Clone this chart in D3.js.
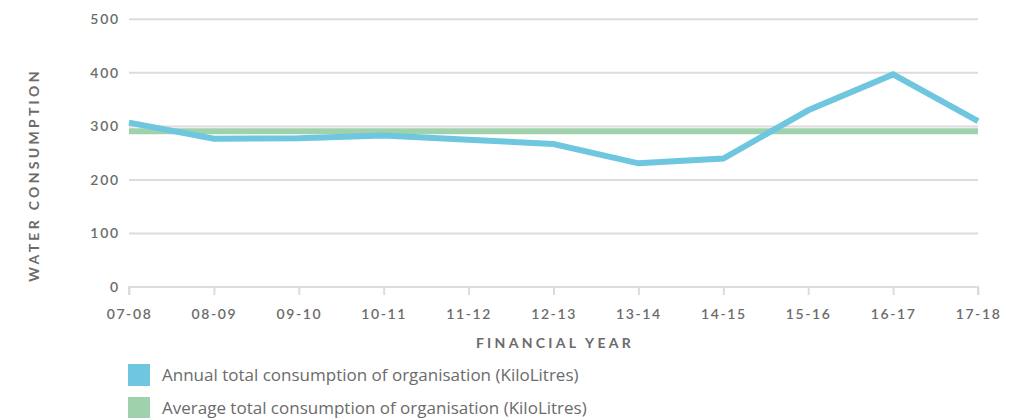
<!DOCTYPE html>
<html><head><meta charset="utf-8">
<script src="https://cdn.jsdelivr.net/npm/d3@7"></script>
<style>body{margin:0;background:#fff}</style>
</head><body>
<svg id="c" width="1025" height="418"></svg>
<script>
const categories = ["07-08","08-09","09-10","10-11","11-12","12-13","13-14","14-15","15-16","16-17","17-18"];
const annual = [307,277,278,283,275,267,231,240,330,397,310];
const average = [291,291,291,291,291,291,291,291,291,291,291];
const yTicks = [0,100,200,300,400,500];
const seriesNames = ["Annual total consumption of organisation (KiloLitres)","Average total consumption of organisation (KiloLitres)"];
const colors = ["#6ec6df","#9fd1ad"];

const svg = d3.select("#c");
const x = d3.scalePoint().domain(categories).range([129,978]);
const y = d3.scaleLinear().domain([0,500]).range([287,19.3]);
const tickFont = "Lato, 'DejaVu Sans', sans-serif";

// gridlines
svg.append("g").selectAll("line").data(yTicks.filter(d=>d>0)).join("line")
  .attr("x1",129).attr("x2",978).attr("y1",d=>y(d)).attr("y2",d=>y(d))
  .attr("stroke","#dcdcdc").attr("stroke-width",2);

// y labels
svg.append("g").selectAll("text").data(yTicks).join("text")
  .attr("x",120).attr("y",d=>y(d)+5).attr("text-anchor","end")
  .attr("font-family",tickFont).attr("font-size",14).attr("font-weight",600)
  .attr("letter-spacing",1.8).attr("fill","#6b6b6b").text(d=>d);

// x axis
const xAxis = svg.append("g").attr("transform",`translate(0,${y(0)})`)
  .call(d3.axisBottom(x).tickSize(8).tickSizeOuter(0).tickPadding(14));
xAxis.select(".domain").attr("stroke","#dcdcdc").attr("stroke-width",2).attr("d",`M129,8V0H978V8`);
xAxis.selectAll(".tick line").attr("stroke","#dcdcdc").attr("stroke-width",2);
xAxis.selectAll(".tick text").attr("font-family",tickFont).attr("font-size",14).attr("font-weight",600)
  .attr("letter-spacing",1.6).attr("fill","#6b6b6b");

// lines
const line = d3.line().x((d,i)=>x(categories[i])).y(d=>y(d));
svg.append("path").datum(average).attr("d",line).attr("fill","none")
  .attr("stroke",colors[1]).attr("stroke-width",6);
svg.append("path").datum(annual).attr("d",line).attr("fill","none")
  .attr("stroke",colors[0]).attr("stroke-width",6).attr("stroke-linejoin","miter");

// axis titles
svg.append("text").attr("transform","translate(39,175) rotate(-90)").attr("text-anchor","middle")
  .attr("font-family","Lato, 'DejaVu Sans', sans-serif").attr("font-size",14).attr("font-weight",700)
  .attr("letter-spacing",3.3).attr("fill","#6b6b6b").text("WATER CONSUMPTION");
svg.append("text").attr("x",555).attr("y",348).attr("text-anchor","middle")
  .attr("font-family","Lato, 'DejaVu Sans', sans-serif").attr("font-size",14).attr("font-weight",700)
  .attr("letter-spacing",3.3).attr("fill","#6b6b6b").text("FINANCIAL YEAR");

// legend
const lg = svg.append("g").selectAll("g").data(seriesNames).join("g")
  .attr("transform",(d,i)=>`translate(128,${364+i*33})`);
lg.append("rect").attr("width",22).attr("height",22).attr("fill",(d,i)=>colors[i]);
lg.append("text").attr("x",34).attr("y",17).attr("font-family","'Source Sans Pro','Open Sans',sans-serif")
  .attr("font-size",17).attr("fill","#6b6b6b").text(d=>d);
</script>
</body></html>
